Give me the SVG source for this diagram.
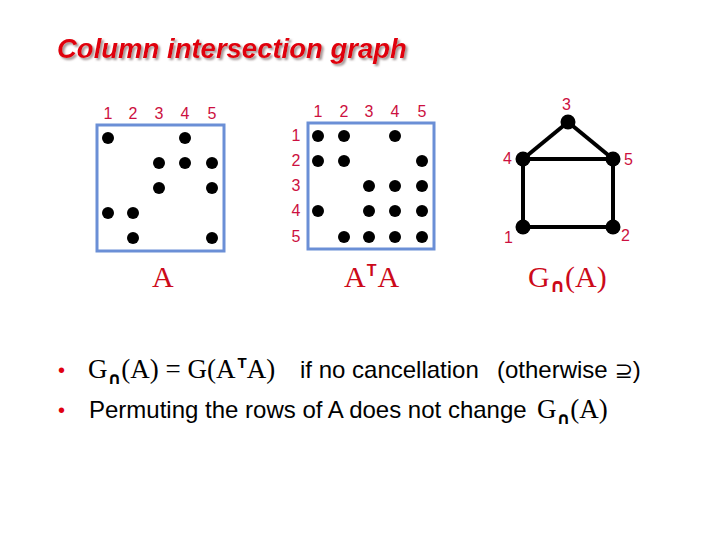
<svg xmlns="http://www.w3.org/2000/svg" width="720" height="540" viewBox="0 0 720 540">
<defs>
<filter id="shadow" x="-5%" y="-20%" width="110%" height="150%">
<feDropShadow dx="2" dy="2" stdDeviation="0.8" flood-color="#998888" flood-opacity="0.9"/>
</filter>
</defs>
<style>
.title{font-family:"Liberation Sans",Arial,sans-serif;font-weight:bold;font-style:italic;font-size:27.5px;fill:#e0000a}
.num{font-family:"Liberation Sans",Arial,sans-serif;font-size:16px;fill:#cc1040}
.box{fill:none;stroke:#6b8fd6;stroke-width:3}
.dot{fill:#000}
.ser{font-family:"Liberation Serif","Times New Roman",serif;fill:#cc0a1a;font-size:30px}
.sup{font-family:"Liberation Sans",Arial,sans-serif;font-weight:bold}
.cap{font-family:"DejaVu Sans",sans-serif;font-weight:bold}
.body{font-family:"Liberation Sans",Arial,sans-serif;font-size:24px;fill:#000}
.bser{font-family:"Liberation Serif","Times New Roman",serif;font-size:27px;fill:#000}
.bul{font-family:"Liberation Sans",Arial,sans-serif;font-size:20px;fill:#e00010}
.edge{stroke:#000;stroke-width:4;fill:none}
</style>
<rect width="720" height="540" fill="#fff"/>
<g id="title">
<text class="title" x="57" y="58" filter="url(#shadow)">Column intersection graph</text>
</g>
<g id="matrixA">
<rect class="box" x="97" y="125" width="127" height="126"/>
<g class="num" text-anchor="middle">
<text x="108" y="119">1</text><text x="133" y="119">2</text><text x="159" y="119">3</text><text x="185" y="119">4</text><text x="212" y="119">5</text>
</g>
<g class="dot">
<circle cx="108" cy="138" r="6"/><circle cx="185" cy="138" r="6"/>
<circle cx="159" cy="163" r="6"/><circle cx="185" cy="163" r="6"/><circle cx="212" cy="163" r="6"/>
<circle cx="159" cy="188" r="6"/><circle cx="212" cy="188" r="6"/>
<circle cx="108" cy="213" r="6"/><circle cx="133" cy="213" r="6"/>
<circle cx="133" cy="238" r="6"/><circle cx="212" cy="238" r="6"/>
</g>
<text class="ser" x="152" y="287">A</text>
</g>
<g id="matrixATA">
<rect class="box" x="308" y="123" width="126" height="126"/>
<g class="num" text-anchor="middle">
<text x="318" y="117">1</text><text x="344" y="117">2</text><text x="369" y="117">3</text><text x="395" y="117">4</text><text x="422" y="117">5</text>
<text x="296" y="141">1</text><text x="296" y="166">2</text><text x="296" y="191">3</text><text x="296" y="216">4</text><text x="296" y="242">5</text>
</g>
<g class="dot">
<circle cx="318" cy="136" r="6"/><circle cx="344" cy="136" r="6"/><circle cx="395" cy="136" r="6"/>
<circle cx="318" cy="161" r="6"/><circle cx="344" cy="161" r="6"/><circle cx="422" cy="161" r="6"/>
<circle cx="369" cy="186" r="6"/><circle cx="395" cy="186" r="6"/><circle cx="422" cy="186" r="6"/>
<circle cx="318" cy="211" r="6"/><circle cx="369" cy="211" r="6"/><circle cx="395" cy="211" r="6"/><circle cx="422" cy="211" r="6"/>
<circle cx="344" cy="237" r="6"/><circle cx="369" cy="237" r="6"/><circle cx="395" cy="237" r="6"/><circle cx="422" cy="237" r="6"/>
</g>
<text class="ser" x="344" y="287">A<tspan class="sup" font-size="16" dy="-11" dx="1">T</tspan><tspan dy="11" dx="1">A</tspan></text>
</g>
<g id="connectors">
<line class="edge" x1="568" y1="122" x2="523" y2="159"/>
<line class="edge" x1="568" y1="122" x2="613" y2="159"/>
<line class="edge" x1="523" y1="159" x2="613" y2="159"/>
<line class="edge" x1="523" y1="159" x2="523" y2="227"/>
<line class="edge" x1="613" y1="159" x2="613" y2="227"/>
<line class="edge" x1="523" y1="227" x2="613" y2="227"/>
</g>
<g id="node3"><circle cx="568" cy="122" r="7.5"/><text class="num" x="562" y="110">3</text></g>
<g id="node4"><circle cx="523" cy="159" r="7.5"/><text class="num" x="503" y="164">4</text></g>
<g id="node5"><circle cx="613" cy="159" r="7.5"/><text class="num" x="624" y="165">5</text></g>
<g id="node1"><circle cx="523" cy="227" r="7.5"/><text class="num" x="504" y="243">1</text></g>
<g id="node2"><circle cx="613" cy="227" r="7.5"/><text class="num" x="621" y="241">2</text></g>
<text class="ser" x="528" y="287">G<tspan class="cap" font-size="19" dy="5">∩</tspan><tspan dy="-5">(A)</tspan></text>
<g id="bullets">
<text class="bul" x="58" y="377">•</text>
<text class="bser" x="88" y="378">G<tspan class="cap" font-size="17" dy="6">∩</tspan><tspan dy="-6">(A) = G(A</tspan><tspan class="sup" font-size="15" dy="-10" dx="2">T</tspan><tspan dy="10">A)</tspan></text>
<text class="body" x="300" y="378">if no cancellation</text>
<text class="body" x="497" y="378">(otherwise <tspan font-family="DejaVu Sans" font-size="22">⊇</tspan>)</text>
<text class="bul" x="58" y="417">•</text>
<text class="body" x="89" y="418">Permuting the rows of A does not change</text>
<text class="bser" x="537" y="418">G<tspan class="cap" font-size="17" dy="6">∩</tspan><tspan dy="-6">(A)</tspan></text>
</g>
</svg>
